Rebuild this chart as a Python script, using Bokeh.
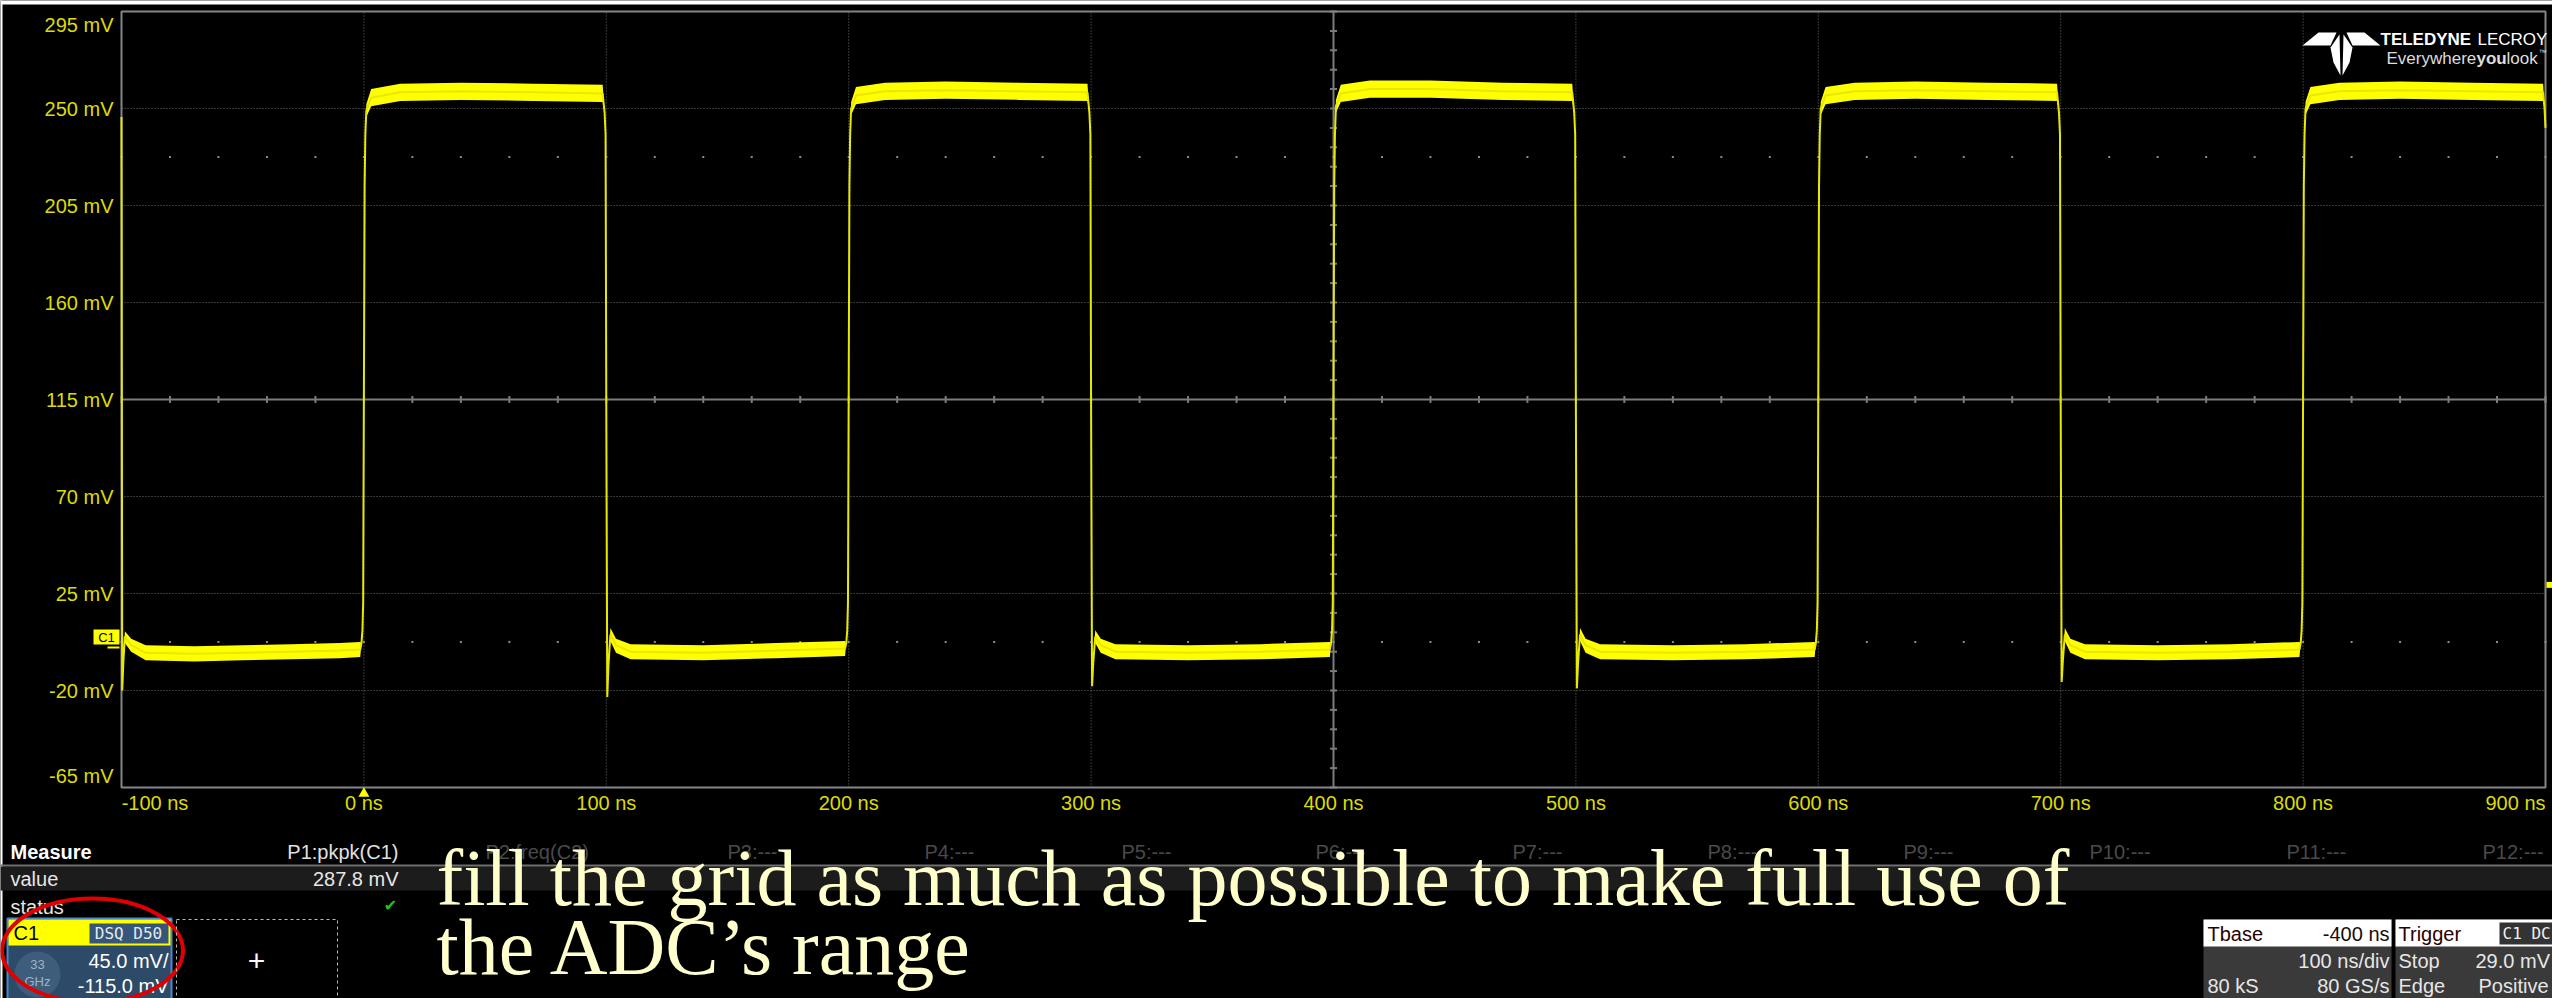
import math
from bokeh.plotting import figure
from bokeh.models import Range1d
from bokeh.embed import file_html
from bokeh.resources import INLINE
from bokeh.core.properties import value

# ---------------- data ----------------
# time (ns) of each trace vertex
trace_t_ns = [
    -100.0, -99.7, -99.2, -98.6, -96.0, -90.0, -70.0, -50.0, -30.0, -10.0, -1.5,
    -1.0, -0.6, -0.3, 0.0, 0.3, 0.6, 1.0, 3.0, 15.0, 40.0, 70.0, 98.5,
    99.3, 99.7, 100.0, 100.4, 100.9, 101.7, 104.0, 110.0, 140.0, 170.0, 198.5,
    199.0, 199.4, 199.7, 200.0, 200.3, 200.6, 201.0, 203.0, 215.0, 240.0, 270.0, 298.5,
    299.3, 299.7, 300.0, 300.4, 300.9, 301.7, 304.0, 310.0, 340.0, 370.0, 398.5,
    399.0, 399.4, 399.7, 400.0, 400.3, 400.6, 401.0, 403.0, 415.0, 440.0, 470.0, 498.5,
    499.3, 499.7, 500.0, 500.4, 500.9, 501.7, 504.0, 510.0, 540.0, 570.0, 598.5,
    599.0, 599.4, 599.7, 600.0, 600.3, 600.6, 601.0, 603.0, 615.0, 640.0, 670.0, 698.5,
    699.3, 699.7, 700.0, 700.4, 700.9, 701.7, 704.0, 710.0, 740.0, 770.0, 798.5,
    799.0, 799.4, 799.7, 800.0, 800.3, 800.6, 801.0, 803.0, 815.0, 840.0, 870.0, 899.0, 899.6, 900.0,
]
# centre of the trace (mV)
trace_mid_mv = [
    246, -20, -6, 5, 1, -2.5, -3, -2.5, -2, -1.5, -1,
    2, 8, 21, 120, 214, 238, 249, 255, 257.5, 258, 257.5, 257,
    248, 238, 110, -23, -8, 6, 1, -2, -2.5, -1.5, -0.5,
    2, 8, 21, 120, 214, 238, 250, 256, 258, 258.5, 258, 257.5,
    248, 238, 110, -18, -7, 5, 1, -2, -2.5, -2, -1,
    2, 8, 21, 120, 214, 238, 251, 257, 259, 259, 258, 257.5,
    248, 238, 110, -19, -7, 6, 1, -2, -2.5, -2, -1,
    2, 8, 21, 120, 214, 238, 250, 256, 258, 258.5, 258, 257.5,
    248, 238, 110, -16, -6, 6, 1, -2, -2.5, -2, -1,
    2, 8, 21, 120, 214, 238, 250, 256, 258, 258.5, 258, 257.5, 250, 241,
]
# upper edge of the noise band (mV)
trace_top_mv = [
    246, -20, -6, 7.5, 4, 1, 0.5, 1, 1.5, 2, 2.5,
    2, 8, 21, 120, 214, 238, 252, 259, 261.5, 262, 261.5, 261,
    248, 238, 110, -23, -8, 9, 4, 1.5, 1, 2, 3,
    2, 8, 21, 120, 214, 238, 253, 260, 262, 262.5, 262, 261.5,
    248, 238, 110, -18, -7, 8, 4, 1.5, 1, 1.5, 2.5,
    2, 8, 21, 120, 214, 238, 254, 261, 263, 263, 262, 261.5,
    248, 238, 110, -19, -7, 9, 4, 1.5, 1, 1.5, 2.5,
    2, 8, 21, 120, 214, 238, 253, 260, 262, 262.5, 262, 261.5,
    248, 238, 110, -16, -6, 9, 4, 1.5, 1, 1.5, 2.5,
    2, 8, 21, 120, 214, 238, 253, 260, 262, 262.5, 262, 261.5, 250, 241,
]
# lower edge of the noise band (mV)
trace_bot_mv = [
    246, -20, -6, 2, -2, -6, -6.5, -6, -5.5, -5, -4.5,
    2, 8, 21, 120, 214, 238, 246, 251, 253.5, 254, 253.5, 253,
    248, 238, 110, -23, -8, 3, -2.5, -5.5, -6, -5, -4,
    2, 8, 21, 120, 214, 238, 247, 252, 254, 254.5, 254, 253.5,
    248, 238, 110, -18, -7, 2, -2.5, -5.5, -6, -5.5, -4.5,
    2, 8, 21, 120, 214, 238, 248, 253, 255, 255, 254, 253.5,
    248, 238, 110, -19, -7, 3, -2.5, -5.5, -6, -5.5, -4.5,
    2, 8, 21, 120, 214, 238, 247, 252, 254, 254.5, 254, 253.5,
    248, 238, 110, -16, -6, 3, -2.5, -5.5, -6, -5.5, -4.5,
    2, 8, 21, 120, 214, 238, 247, 252, 254, 254.5, 254, 253.5, 250, 241,
]

x_tick_values_ns = [-100, 0, 100, 200, 300, 400, 500, 600, 700, 800, 900]
x_tick_labels = ["-100 ns", "0 ns", "100 ns", "200 ns", "300 ns", "400 ns",
                 "500 ns", "600 ns", "700 ns", "800 ns", "900 ns"]
y_tick_values_mv = [295, 250, 205, 160, 115, 70, 25, -20, -65]
y_tick_labels = ["295 mV", "250 mV", "205 mV", "160 mV", "115 mV", "70 mV",
                 "25 mV", "-20 mV", "-65 mV"]
trigger_level_mv = 29.0
channel_ground_mv = 0.0

measure_headers = ["P1:pkpk(C1)", "P2:freq(C2)", "P3:---", "P4:---", "P5:---", "P6:---",
                   "P7:---", "P8:---", "P9:---", "P10:---", "P11:---", "P12:---"]
measure_value = "287.8 mV"
ch_name = "C1"
ch_bandwidth = ["33", "GHz"]
ch_vdiv = "45.0 mV/"
ch_offset = "-115.0 mV"
tbase_rows = [("Tbase", "-400 ns"), ("", "100 ns/div"), ("80 kS", "80 GS/s")]
trigger_rows = [("Trigger", "C1 DC"), ("Stop", "29.0 mV"), ("Edge", "Positive")]
note_lines = ["fill the grid as much as possible to make full use of",
              "the ADC\u2019s range"]

# ---------------- layout ----------------
W, H = 2552, 998
GX0, GX1, GY0, GY1 = 121, 2545, 11, 787          # graticule in screen pixels
T0, T1, V0, V1 = -100.0, 900.0, -65.0, 295.0      # graticule in data units
PX_NS = (GX1 - GX0) / (T1 - T0)
PX_MV = (GY1 - GY0) / (V1 - V0)

YEL = "#ffff00"
AXIS_TXT = "#dcdc00"
GRID = "#6e6e6e"
CENTER = "#7c7c7c"
UI_FONT = "Liberation Sans"

p = figure(width=W, height=H,
           x_range=Range1d(T0 - GX0 / PX_NS, T1 + (W - GX1) / PX_NS),
           y_range=Range1d(V0 - (H - GY1) / PX_MV, V1 + GY0 / PX_MV),
           output_backend="svg", toolbar_location=None, min_border=0,
           x_axis_location=None, y_axis_location=None,
           background_fill_color="black", border_fill_color="black", outline_line_color=None)
p.extra_x_ranges = {"px": Range1d(0, W)}
p.extra_y_ranges = {"px": Range1d(H, 0)}
p.xgrid.visible = False
p.ygrid.visible = False
PX = dict(x_range_name="px", y_range_name="px")


def put(x, y, s, size=20, color="#e6e6e6", align="left", font=UI_FONT, style="normal",
        baseline="middle"):
    p.text(x=[x], y=[y], text=[s], text_font=value(font), text_font_size=value(f"{size}px"),
           text_color=color, text_align=align, text_baseline=baseline, text_font_style=style,
           **PX)


# thin white page strip seen at the top / left of the screenshot
p.quad(left=[0], right=[W], top=[0], bottom=[4], fill_color="white", line_color=None, **PX)
p.quad(left=[0], right=[2], top=[0], bottom=[H], fill_color="white", line_color=None, **PX)

# graticule: dotted grid, centre cross, dotted rows, frame
grid_t = [v for v in x_tick_values_ns if v not in (T0, T1, 400)]
grid_v = [v for v in y_tick_values_mv if v not in (V0, V1, 115)]
p.segment(x0=grid_t, y0=[V0] * len(grid_t), x1=grid_t, y1=[V1] * len(grid_t),
          line_color=GRID, line_dash="1 2", line_width=1)
p.segment(x0=[T0] * len(grid_v), y0=grid_v, x1=[T1] * len(grid_v), y1=grid_v,
          line_color=GRID, line_dash="1 2", line_width=1)
p.segment(x0=[400, T0], y0=[V0, 115], x1=[400, T1], y1=[V1, 115], line_color=CENTER,
          line_width=2)
sub_t = list(range(-100, 901, 20))
sub_v = [-65 + 9 * k for k in range(41)]
p.scatter(x=sub_t, y=[115] * len(sub_t), marker="dash", angle=math.pi / 2, size=7,
          line_color=CENTER, line_width=2)
p.scatter(x=[400] * len(sub_v), y=sub_v, marker="dash", size=7, line_color=CENTER, line_width=2)
p.scatter(x=sub_t * 2, y=[227.5] * len(sub_t) + [2.5] * len(sub_t), marker="square", size=2,
          fill_color="#8c8c8c", line_color=None)
p.quad(left=[T0], right=[T1], bottom=[V0], top=[V1], fill_color=None, line_color="#858585",
       line_width=2)

# axis labels (extreme ones sit inside the graticule, as on the scope)
x_label_pos = list(x_tick_values_ns)
x_label_pos[0] = T0 + 33.5 / PX_NS
x_label_pos[-1] = T1 - 30 / PX_NS
y_label_pos = list(y_tick_values_mv)
y_label_pos[0] = V1 - 13 / PX_MV
y_label_pos[-1] = V0 + 12 / PX_MV
p.text(x=x_label_pos, y=[802] * len(x_label_pos), text=x_tick_labels,
       text_font=value(UI_FONT), text_font_size=value("20px"), text_color=AXIS_TXT,
       text_align="center", text_baseline="middle", y_range_name="px")
p.text(x=[GX0 - 8] * len(y_label_pos), y=y_label_pos, text=y_tick_labels,
       text_font=value(UI_FONT), text_font_size=value("20px"), text_color=AXIS_TXT,
       text_align="right", text_baseline="middle", x_range_name="px")

# the trace
p.varea(x=trace_t_ns, y1=trace_bot_mv, y2=trace_top_mv, fill_color=YEL)
p.line(trace_t_ns, trace_mid_mv, line_color="#e8e800", line_width=2)

# channel ground marker, trigger position and trigger level markers
gy = GY0 + (V1 - channel_ground_mv) * PX_MV
p.quad(left=[93], right=[119], top=[gy - 18], bottom=[gy - 3], fill_color=YEL,
       line_color=None, **PX)
p.segment(x0=[107], y0=[gy], x1=[119], y1=[gy], line_color=YEL, line_width=2, **PX)
put(106, gy - 10, "C1", size=13, color="black", align="center")
p.scatter(x=[0], y=[793], marker="triangle", size=11, fill_color=YEL, line_color=None,
          y_range_name="px")
p.scatter(x=[W - 3], y=[trigger_level_mv], marker="square", size=6, fill_color=YEL,
          line_color=None, x_range_name="px")

# logo
logo_xs = [[2302, 2318, 2336, 2330], [2380, 2364, 2346, 2352],
           [2330, 2339, 2340, 2333], [2352, 2343, 2342, 2349]]
logo_ys = [[45, 32, 32, 45], [45, 32, 32, 45], [47, 34, 75, 62], [47, 34, 75, 62]]
p.patches(xs=logo_xs, ys=logo_ys, fill_color="white", line_color=None, **PX)
put(2380, 39, "TELEDYNE", size=17, color="white", style="bold")
put(2477, 39, "LECROY", size=17, color="white")
put(2386, 58, "Everywhere", size=17, color="#dddddd")
put(2476, 58, "you", size=17, color="#dddddd", style="bold")
put(2506, 58, "look", size=17, color="#dddddd")
put(2538, 52, "\u2122", size=8, color="#dddddd")

# ---------------- bottom status panel ----------------
p.quad(left=[0], right=[W], top=[866], bottom=[890], fill_color="#1c1c1c", line_color=None,
       **PX)
p.segment(x0=[0], y0=[865], x1=[W], y1=[865], line_color="#707070", line_width=2, **PX)

put(10, 851, "Measure", color="white", style="bold")
put(398, 851, measure_headers[0], color="#e0e0e0", align="right")
hdr_x = [485, 727, 924, 1121, 1315, 1512, 1707, 1903, 2089, 2286, 2482]
for hx, h in zip(hdr_x, measure_headers[1:]):
    put(hx, 851, h, color="#4a4a4a")
put(10, 878, "value")
put(398, 878, measure_value, align="right")
put(10, 906, "status")
put(390, 905, "\u2714", size=16, color="#22c022", align="center", font="DejaVu Sans")

# channel descriptor
p.quad(left=[7], right=[171], top=[918], bottom=[1000], fill_color="#2d4a68",
       line_color="#4a8ad0", line_width=2, **PX)
p.quad(left=[8], right=[170], top=[919], bottom=[945], fill_color=YEL, line_color=None, **PX)
p.quad(left=[89], right=[168], top=[923], bottom=[943], fill_color="#34567a", line_color=None,
       **PX)
put(13, 932, ch_name, color="black")
put(128, 933, "DSQ D50", size=16, color="#e8e8e8", align="center", font="DejaVu Sans Mono")
p.circle(x=[37], y=[974], radius=23, fill_color="#3e5d7d", line_color=None, **PX)
put(37, 964, ch_bandwidth[0], size=13, color="#9fb3c8", align="center")
put(37, 981, ch_bandwidth[1], size=13, color="#9fb3c8", align="center")
put(168, 960, ch_vdiv, color="white", align="right")
put(168, 985, ch_offset, color="white", align="right")
p.ellipse(x=[92], y=[950], width=181, height=104, fill_color=None, line_color="#e00000",
          line_width=4, **PX)

# empty "+" slot
p.quad(left=[176], right=[337], top=[919], bottom=[1000], fill_color=None,
       line_color="#bbbbbb", line_dash="3 3", line_width=1, **PX)
put(256, 960, "+", size=30, color="white", align="center")

# timebase / trigger boxes
for left, right in [(2203, 2391), (2395, W + 5)]:
    p.quad(left=[left], right=[right], top=[919], bottom=[1000], fill_color="#3a3a3a",
           line_color=None, **PX)
    p.quad(left=[left], right=[right], top=[919], bottom=[946], fill_color="white",
           line_color=None, **PX)
put(2207, 933, tbase_rows[0][0], color="#2a0000")
put(2389, 933, tbase_rows[0][1], color="#1a0a0a", align="right")
put(2389, 960, tbase_rows[1][1], align="right")
put(2207, 985, tbase_rows[2][0])
put(2389, 985, tbase_rows[2][1], align="right")
put(2398, 933, trigger_rows[0][0], color="#2a0000")
p.quad(left=[2499], right=[W + 5], top=[922], bottom=[944], fill_color="#333333",
       line_color=None, **PX)
put(2502, 933, trigger_rows[0][1], size=16, color="#eeeeee", font="DejaVu Sans Mono")
put(2398, 960, trigger_rows[1][0])
put(2475, 960, trigger_rows[1][1])
put(2398, 985, trigger_rows[2][0])
put(2478, 985, trigger_rows[2][1])

# overlay note
put(436, 877, note_lines[0], size=80, color="#ffffcc", font="Liberation Serif")
put(436, 946, note_lines[1], size=80, color="#ffffcc", font="Liberation Serif")

open("out.html", "w").write(file_html(p, INLINE))
